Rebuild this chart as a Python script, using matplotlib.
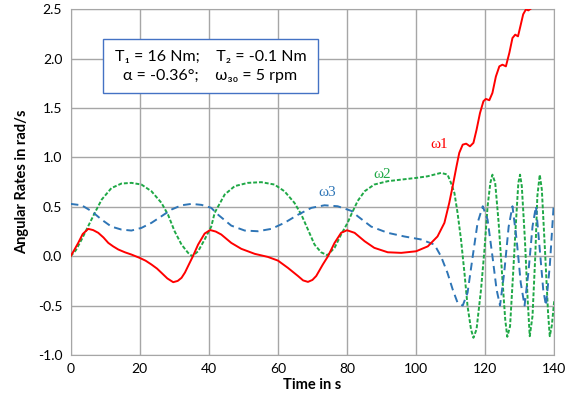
import matplotlib
matplotlib.use("Agg")
import matplotlib.pyplot as plt
from matplotlib.patches import Rectangle
from matplotlib.ticker import FormatStrFormatter

# omega 1 (solid red)
t_w1 = [0, 1.0, 2.2, 3.5, 5.1, 6.5, 8.0, 9.5, 10.9, 12.3, 13.8, 15.7, 17.6, 20, 21.7, 23.4, 25, 26.3, 28, 29.7,
        31, 32.1, 33.1, 34, 35.4, 36.9, 38.8, 40.4, 42, 43.6, 46.5, 49.4, 53.3, 57.1, 60, 62.9, 65.8, 67.3, 68.7,
        70, 71.1, 73, 74.5, 76.4, 78.3, 80, 82.2, 85.1, 87.9, 91.8, 95.7, 100, 103.4, 106.2, 108.2, 109.6, 110.6,
        111.7, 112.5, 113.5, 114.5, 115.6, 116.6, 117.5, 118.5, 119.5, 120.2, 121.2, 122.1, 123.1, 124.1, 125,
        126, 127, 127.9, 128.7, 129.5, 130.2, 131, 131.8, 132.5, 133.3]
w1 = [0, 0.06, 0.135, 0.225, 0.277, 0.265, 0.237, 0.19, 0.135, 0.10, 0.068, 0.04, 0.017, -0.017, -0.045, -0.084,
      -0.125, -0.168, -0.225, -0.263, -0.25, -0.219, -0.165, -0.10, 0.0, 0.118, 0.23, 0.265, 0.25, 0.22, 0.135,
      0.075, 0.024, -0.007, -0.044, -0.118, -0.2, -0.245, -0.26, -0.24, -0.2, -0.084, 0.0, 0.135, 0.237, 0.263,
      0.237, 0.152, 0.085, 0.04, 0.034, 0.05, 0.10, 0.2, 0.338, 0.54, 0.71, 0.91, 1.047, 1.13, 1.14, 1.113, 1.148,
      1.28, 1.45, 1.57, 1.593, 1.58, 1.654, 1.82, 1.923, 1.94, 1.923, 2.06, 2.21, 2.244, 2.227, 2.33, 2.45, 2.5,
      2.49, 2.51]

# omega 2 (dotted green)
t_w2 = [0, 1.5, 3.2, 4.6, 7.0, 9.0, 11.8, 14.7, 17.6, 20.5, 23.4, 26.3, 28.2, 30.1, 32.1, 34, 35.2, 36.9, 38.8,
        40.7, 41.7, 44.6, 47.5, 51.3, 55.2, 59, 61.9, 64.8, 66.8, 68.7, 70.6, 72.5, 74.3, 76.4, 78.3, 80.2, 81.2,
        83.1, 85.1, 87.9, 91.8, 95.7, 100, 103.4, 107.2, 109.1, 110.1, 111.1, 112, 113, 114, 114.9, 115.9, 116.6,
        117.5, 118.8, 119.8, 120.7, 121.5, 122.1, 122.9, 123.9, 125, 125.8, 126.4, 127.2, 128.1, 128.9, 129.6,
        130.1, 130.6, 131.5, 132.3, 132.9, 133.7, 134.5, 135.1, 135.8, 136.4, 137.4, 138.2, 138.7, 139.3, 140]
w2 = [0, 0.06, 0.17, 0.27, 0.44, 0.574, 0.69, 0.736, 0.743, 0.726, 0.658, 0.54, 0.42, 0.253, 0.118, 0.034, 0.0,
      0.05, 0.17, 0.30, 0.44, 0.625, 0.71, 0.743, 0.75, 0.726, 0.658, 0.54, 0.42, 0.27, 0.118, 0.04, 0.01, 0.085,
      0.22, 0.34, 0.42, 0.56, 0.658, 0.726, 0.76, 0.776, 0.793, 0.81, 0.844, 0.827, 0.743, 0.64, 0.44, 0.17,
      -0.168, -0.506, -0.74, -0.826, -0.74, -0.337, 0.068, 0.506, 0.743, 0.826, 0.743, 0.338, -0.236, -0.64,
      -0.816, -0.71, -0.168, 0.338, 0.743, 0.826, 0.71, 0.17, -0.44, -0.81, -0.607, 0.0, 0.607, 0.826, 0.675,
      0.0, -0.573, -0.81, -0.7, -0.45]

# omega 3 (dashed blue)
t_w3 = [0, 3.2, 6.1, 9.0, 11.8, 14.7, 17.6, 20.5, 23.4, 26.3, 29.2, 32.1, 35, 37.9, 40.7, 42.7, 46.5, 50.4, 54.2,
        58.1, 61.9, 65.8, 69.7, 73.5, 77.3, 81.2, 83.1, 87, 91.8, 96.6, 101.4, 105.3, 107.2, 109.1, 110.6, 112,
        113.5, 114.9, 116.4, 117.8, 119.3, 120.7, 122.1, 123.3, 124.3, 125.5, 126.8, 127.9, 129.1, 130.3, 131.4,
        132.5, 133.7, 134.7, 135.8, 136.8, 137.6, 138.7, 139.8, 140]
w3 = [0.53, 0.516, 0.455, 0.37, 0.30, 0.27, 0.26, 0.287, 0.338, 0.405, 0.473, 0.516, 0.53, 0.52, 0.49, 0.42, 0.31,
      0.26, 0.253, 0.277, 0.338, 0.42, 0.49, 0.516, 0.506, 0.46, 0.405, 0.30, 0.237, 0.2, 0.17, 0.118, 0.0,
      -0.17, -0.337, -0.47, -0.5, -0.37, 0.0, 0.338, 0.506, 0.37, 0.0, -0.337, -0.5, -0.17, 0.30, 0.506, 0.17,
      -0.27, -0.5, -0.17, 0.30, 0.506, 0.07, -0.337, -0.5, -0.1, 0.5, 0.5]

x_ticks = [0, 20, 40, 60, 80, 100, 120, 140]
y_ticks = [-1.0, -0.5, 0.0, 0.5, 1.0, 1.5, 2.0, 2.5]

plt.rcParams['font.family'] = ['Lato', 'DejaVu Sans']

fig = plt.figure(figsize=(5.65, 4.08), dpi=100)
ax = fig.add_axes([0.125, 0.130, 0.856, 0.847])

ax.plot(t_w1, w1, color='#FF0000', lw=1.4, zorder=4)
ax.plot(t_w2, w2, color='#1FA846', lw=1.4, linestyle=(0, (2, 1)), zorder=3)
ax.plot(t_w3, w3, color='#2E75B6', lw=1.4, linestyle=(0, (4, 2.5)), zorder=3)

ax.set_xlim(0, 140)
ax.set_ylim(-1.0, 2.5)
ax.set_xticks(x_ticks)
ax.set_yticks(y_ticks)
ax.yaxis.set_major_formatter(FormatStrFormatter('%.1f'))
ax.grid(True, color='#A6A6A6', lw=1.0)
ax.set_axisbelow(True)
for s in ax.spines.values():
    s.set_color('#A6A6A6')
ax.tick_params(length=0, labelsize=10, pad=6)

ax.set_xlabel('Time in s', fontsize=10.5, fontweight='bold', labelpad=2)
ax.set_ylabel('Angular Rates in rad/s', fontsize=10.5, fontweight='bold', labelpad=6)

serif = ['Liberation Serif', 'DejaVu Serif']
ax.text(106.7, 1.13, 'ω1', color='#FF0000', fontsize=11, family=serif, ha='center', va='center')
ax.text(90.3, 0.83, 'ω2', color='#1FA846', fontsize=11, family=serif, ha='center', va='center')
ax.text(74.4, 0.65, 'ω3', color='#2E75B6', fontsize=11, family=serif, ha='center', va='center')

# parameter box
ax.add_patch(Rectangle((0.0675, 0.759), 0.4435, 0.154, transform=ax.transAxes,
                       fc='white', ec='#4472C4', lw=1.0, zorder=5))
ax.text(0.289, 0.836, 'T\u2081 = 16 Nm;    T\u2082 = -0.1 Nm\nα = -0.36°;    ω\u2083\u2080 = 5 rpm',
        transform=ax.transAxes, fontsize=11.5, ha='center', va='center', linespacing=1.45, zorder=6)

fig.savefig('out.png', dpi=100)
